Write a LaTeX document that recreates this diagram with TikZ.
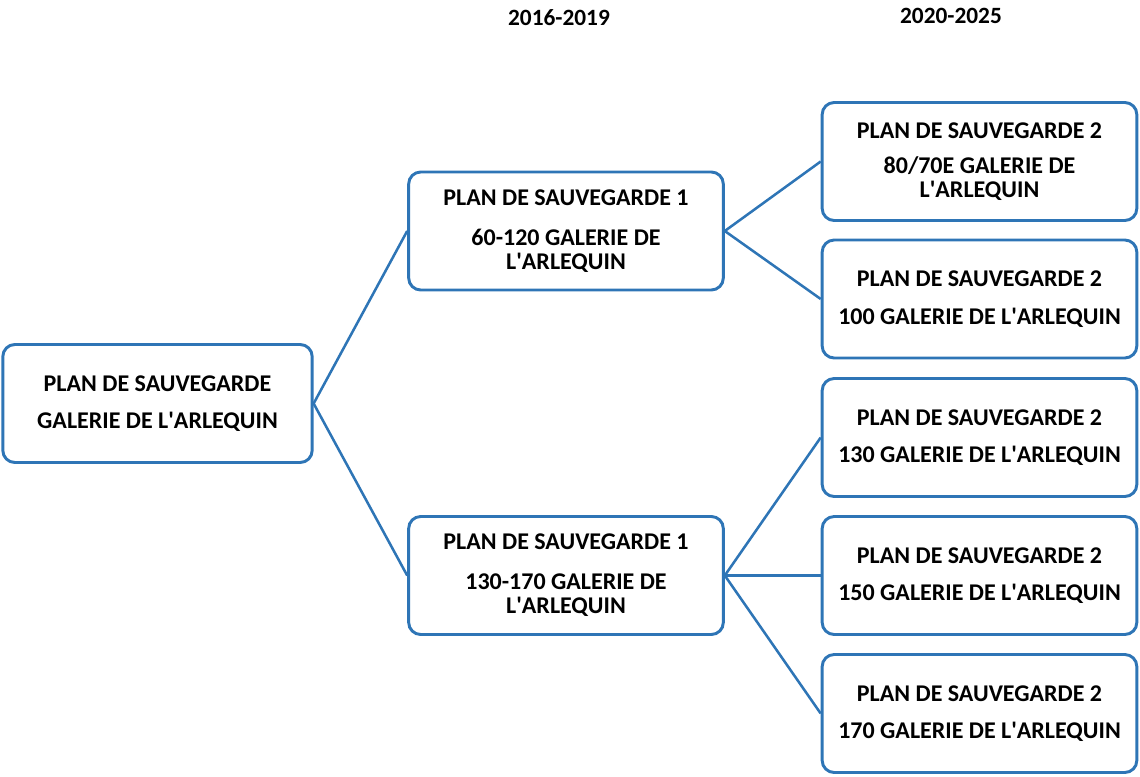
\documentclass[tikz,border=0pt]{standalone}
\usepackage{fontspec}
\setmainfont{Carlito}
\usetikzlibrary{positioning}
\definecolor{planblue}{HTML}{2E75B6}
\newcommand{\apos}{\textquotesingle}

\begin{document}
\begin{tikzpicture}[x=0.75pt, y=-0.75pt,
		plan/.style={draw=planblue, line width=2.2pt, rounded corners=9pt, fill=white,
			align=center, font=\bfseries\fontsize{18}{18}\selectfont,
			minimum width=236pt, minimum height=88.5pt, inner sep=2pt},
		link/.style={draw=planblue, line width=1.9pt},
		year/.style={font=\bfseries\fontsize{17.5}{18}\selectfont}]
		\useasboundingbox (0, 0) rectangle (1140, 776);
		% years
		\node[year] (yr1) at (559, 18) {2016-2019};
		\node[year] (yr2) at (951, 16) {2020-2025};
		% boxes
		\node[plan, minimum width=232pt] (root) at (157.5, 403.5) {PLAN DE SAUVEGARDE\\[10pt]GALERIE DE L\apos ARLEQUIN};
		\node[plan] (sg1a) at (566, 231) {PLAN DE SAUVEGARDE 1\\[12pt]60-120 GALERIE DE\\L\apos ARLEQUIN};
		\node[plan] (sg1b) at (566, 575.5) {PLAN DE SAUVEGARDE 1\\[12pt]130-170 GALERIE DE\\L\apos ARLEQUIN};
		\node[plan] (sg2a) at (979.5, 161.5) {PLAN DE SAUVEGARDE 2\\[8pt]80/70E GALERIE DE\\L\apos ARLEQUIN};
		\node[plan] (sg2b) at (979.5, 299) {PLAN DE SAUVEGARDE 2\\[10pt]100 GALERIE DE L\apos ARLEQUIN};
		\node[plan] (sg2c) at (979.5, 437.5) {PLAN DE SAUVEGARDE 2\\[10pt]130 GALERIE DE L\apos ARLEQUIN};
		\node[plan] (sg2d) at (979.5, 575.5) {PLAN DE SAUVEGARDE 2\\[10pt]150 GALERIE DE L\apos ARLEQUIN};
		\node[plan] (sg2e) at (979.5, 713.5) {PLAN DE SAUVEGARDE 2\\[10pt]170 GALERIE DE L\apos ARLEQUIN};
		% links
		\draw[link] (sg1a.west) -- (root.east) -- (sg1b.west);
		\draw[link] (sg2a.west) -- (sg1a.east) -- (sg2b.west);
		\draw[link] (sg2c.west) -- (sg1b.east) -- (sg2e.west);
		\draw[link] (sg1b.east) -- (sg2d.west);
	\end{tikzpicture}
\end{document}
